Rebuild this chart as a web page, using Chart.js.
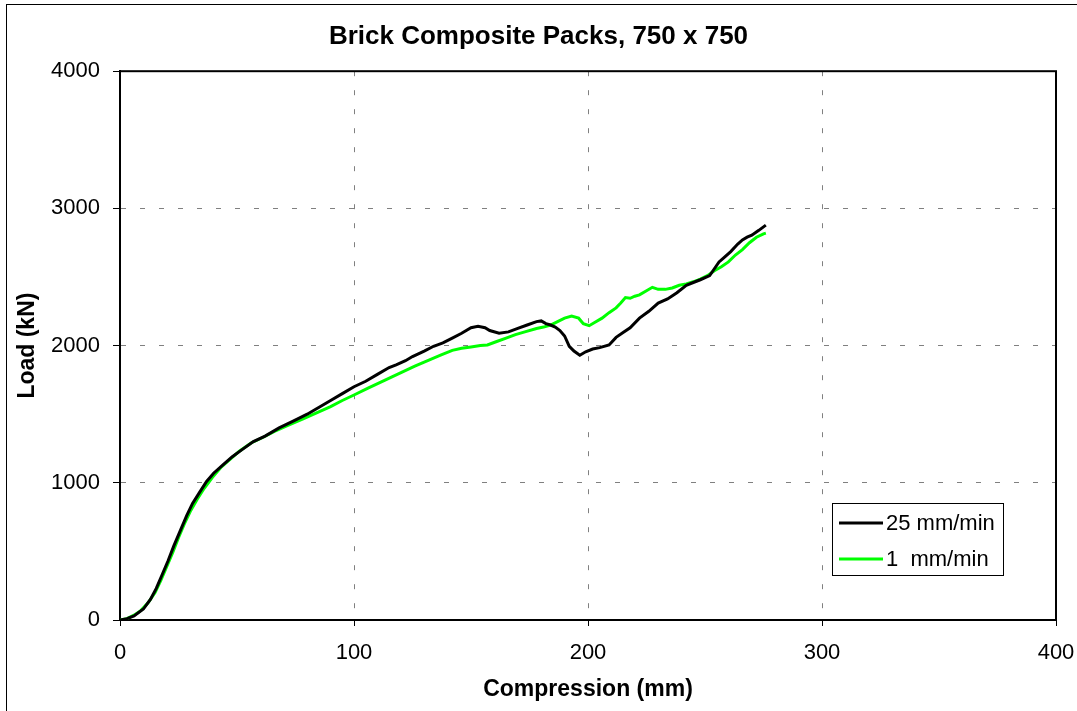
<!DOCTYPE html>
<html>
<head>
<meta charset="utf-8">
<title>Brick Composite Packs</title>
<script src="https://cdn.jsdelivr.net/npm/chart.js@4.4.1/dist/chart.umd.min.js"></script>
<style>
    html, body { margin: 0; padding: 0; background: #fff; }
    #wrap { position: relative; width: 1077px; height: 711px; overflow: hidden; }
    #frame { position: absolute; left: 6px; top: 4px; width: 1200px; height: 800px;
             border-left: 1px solid #000; border-top: 1px solid #000; pointer-events: none; }
</style>
</head>
<body>
<div id="wrap">
    <canvas id="chart" width="1077" height="711"></canvas>
    <div id="frame"></div>
</div>
<script>
// Load vs compression
const fastLabel = '25 mm/min';
const fastX = [0, 3, 6, 10, 13, 15.5, 18, 20.5, 23, 26, 28.5, 31, 34, 37, 40, 44, 48, 52, 57, 62,
    68, 74, 80, 86, 90, 95, 100, 105, 110, 115, 118, 122, 125, 130, 134, 138, 142, 146, 150, 153,
    156, 158, 162, 166, 170, 174, 178, 180, 182, 184, 186, 188, 190, 192, 194, 196.5, 199, 202, 205, 209,
    212, 215, 218, 222, 226, 230, 234, 238, 242, 245, 248, 252, 254, 256, 258, 261, 264, 266, 268, 270,
    273, 276];
const fastY = [0, 10, 30, 80, 150, 230, 330, 430, 540, 660, 760, 850, 930, 1010, 1070, 1130, 1190, 1240, 1300, 1340,
    1400, 1450, 1500, 1560, 1600, 1650, 1700, 1740, 1790, 1840, 1860, 1890, 1920, 1960, 1995, 2020, 2055, 2090, 2130, 2140,
    2130, 2110, 2090, 2100, 2125, 2150, 2175, 2180, 2160, 2150, 2135, 2110, 2070, 1995, 1960, 1930, 1955, 1975, 1985, 2005,
    2060, 2095, 2130, 2200, 2250, 2310, 2340, 2385, 2440, 2460, 2480, 2510, 2560, 2610, 2640, 2685, 2740, 2770, 2790, 2805,
    2840, 2878];

const slowLabel = '1  mm/min';
const slowX = [0, 3, 6, 9, 12, 15, 17.5, 20, 22.5, 25, 27.5, 30, 33, 36, 39.5, 43, 47, 51, 56, 61,
    66, 72, 78, 84, 90, 95, 100, 106, 111, 116, 121, 126, 132, 137, 142, 146, 150, 154, 157, 161,
    165, 169, 173, 178, 181, 184, 187, 190, 193, 196, 198, 200.5, 203, 206, 209, 212, 214, 216, 218, 220,
    222, 225, 227.5, 230, 233, 236, 239, 242, 245, 248, 251, 254, 257, 260, 263, 266, 269, 272, 275, 276];
const slowY = [0, 10, 35, 70, 125, 200, 290, 390, 490, 600, 700, 790, 880, 960, 1040, 1110, 1170, 1230, 1290, 1330,
    1375, 1420, 1465, 1510, 1555, 1600, 1640, 1690, 1730, 1770, 1810, 1850, 1895, 1930, 1965, 1980, 1990, 2000, 2005, 2030,
    2055, 2080, 2100, 2125, 2135, 2150, 2175, 2200, 2215, 2200, 2160, 2145, 2170, 2200, 2240, 2275, 2310, 2350, 2345, 2360,
    2370, 2400, 2425, 2410, 2410, 2420, 2440, 2450, 2465, 2485, 2510, 2545, 2575, 2610, 2660, 2700, 2750, 2790, 2815, 2820];

const xTicks = [0, 100, 200, 300, 400];
const yTicks = [0, 1000, 2000, 3000, 4000];

const FONT = "'Liberation Sans', Arial, sans-serif";

function toPoints(xs, ys) {
    return xs.map((x, i) => ({ x: x, y: ys[i] }));
}

// plot area frame (top and right sides are solid in the original)
const plotFrame = {
    id: 'plotFrame',
    beforeDatasetsDraw(chart) {
        const { ctx, chartArea: a } = chart;
        ctx.save();
        ctx.strokeStyle = '#000';
        ctx.lineWidth = 2;
        ctx.strokeRect(a.left, a.top, a.right - a.left, a.bottom - a.top);
        ctx.restore();
    }
};

// boxed legend sitting inside the plot, bottom right
const boxLegend = {
    id: 'boxLegend',
    afterDraw(chart) {
        const { ctx, chartArea: a } = chart;
        const x = Math.round(a.left + (a.right - a.left) * 0.7605);
        const y = Math.round(a.top + (a.bottom - a.top) * 0.787);
        const w = 171, h = 72;
        ctx.save();
        ctx.fillStyle = '#fff';
        ctx.fillRect(x, y, w, h);
        ctx.strokeStyle = '#000';
        ctx.lineWidth = 1;
        ctx.strokeRect(x + 0.5, y + 0.5, w, h);
        ctx.font = '22px ' + FONT;
        ctx.textBaseline = 'middle';
        chart.data.datasets.forEach((ds, i) => {
            const ly = y + 20 + i * 36;
            ctx.strokeStyle = ds.borderColor;
            ctx.lineWidth = 3;
            ctx.beginPath();
            ctx.moveTo(x + 7, ly);
            ctx.lineTo(x + 51, ly);
            ctx.stroke();
            ctx.fillStyle = '#000';
            ctx.fillText(ds.label, x + 54, ly + 1);
        });
        ctx.restore();
    }
};

const tickFont = { family: FONT, size: 22 };
const axisTitleFont = { family: FONT, size: 23, weight: 'bold' };
const plainNumber = v => String(v);

new Chart(document.getElementById('chart'), {
    type: 'line',
    data: {
        datasets: [
            { label: fastLabel, data: toPoints(fastX, fastY), borderColor: '#000000', borderWidth: 3, pointRadius: 0, tension: 0, fill: false },
            { label: slowLabel, data: toPoints(slowX, slowY), borderColor: '#00ff00', borderWidth: 3, pointRadius: 0, tension: 0, fill: false }
        ]
    },
    options: {
        responsive: false,
        animation: false,
        events: [],
        layout: { padding: 0 },
        plugins: {
            legend: { display: false },
            tooltip: { enabled: false },
            title: {
                display: true,
                text: 'Brick Composite Packs, 750 x 750',
                color: '#000',
                font: { family: FONT, size: 26, weight: 'bold' },
                padding: { top: 21, bottom: 19 }
            }
        },
        scales: {
            x: {
                type: 'linear',
                min: 0,
                max: 400,
                afterBuildTicks: s => { s.ticks = xTicks.map(v => ({ value: v })); },
                ticks: { color: '#000', font: tickFont, padding: 14, maxRotation: 0, callback: plainNumber },
                grid: { color: '#808080', lineWidth: 1, tickLength: 6, tickColor: '#000', tickWidth: 1 },
                border: { display: true, color: '#000', width: 2, dash: [5, 14] },
                title: { display: true, text: 'Compression (mm)', color: '#000', font: axisTitleFont, padding: { top: 2, bottom: 8 } },
                // right margin comes from here so the title stays centred on the full width
                afterFit: s => { s.height = 91; s.paddingLeft = 0; s.paddingRight = 21; }
            },
            y: {
                type: 'linear',
                min: 0,
                max: 4000,
                afterBuildTicks: s => { s.ticks = yTicks.map(v => ({ value: v })); },
                ticks: { color: '#000', font: tickFont, padding: 13, callback: plainNumber },
                grid: { color: '#808080', lineWidth: 1, tickLength: 7, tickColor: '#000', tickWidth: 1 },
                border: { display: true, color: '#000', width: 2, dash: [5, 14] },
                title: { display: true, text: 'Load (kN)', color: '#000', font: axisTitleFont, padding: { top: 14, bottom: 0 } },
                afterFit: s => { s.width = 120; }
            }
        }
    },
    plugins: [plotFrame, boxLegend]
});
</script>
</body>
</html>
